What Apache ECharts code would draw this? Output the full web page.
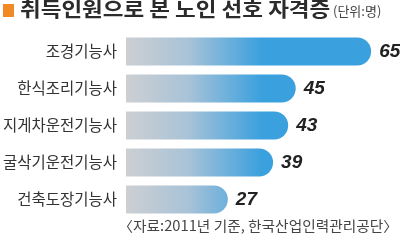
<!DOCTYPE html>
<html><head><meta charset="utf-8">
<script src="https://cdn.jsdelivr.net/npm/echarts@6/dist/echarts.min.js"></script>
<style>html,body{margin:0;padding:0;background:#fff}#c{width:400px;height:241px}</style>
</head><body><div id="c"></div>
<script>
const categories = ['조경기능사','한식조리기능사','지게차운전기능사','굴삭기운전기능사','건축도장기능사'];
const values = [65,45,43,39,27];
const titleText = '취득인원으로 본 노인 선호 자격증';
const unitText = '(단위:명)';
const sourceText = '〈자료:2011년 기준, 한국산업인력관리공단〉';

const chart = echarts.init(document.getElementById('c'), null, {renderer:'canvas'});
const kr = '"Noto Sans CJK KR", "Noto Sans", sans-serif';
chart.setOption({
  animation:false,
  backgroundColor:'#fff',
  grid:{left:126, top:33, width:264, height:185, containLabel:false, outerBoundsMode:'none'},
  xAxis:{type:'value', min:0, max:70, show:false},
  yAxis:{type:'category', data:categories, inverse:true,
    axisLine:{show:false}, axisTick:{show:false}, splitLine:{show:false},
    axisLabel:{fontFamily:kr, fontSize:15.5, color:'#333', margin:9}},
  series:[{type:'bar', data:values, barWidth:28,
    itemStyle:{borderRadius:[0,14,14,0],
      color:new echarts.graphic.LinearGradient(126,0,262,0,[
        {offset:0,color:'#cdcfd2'},{offset:0.45,color:'#a9c3d8'},{offset:1,color:'#3aa0de'}],true)},
    label:{show:true, position:'right', distance:8, fontFamily:'"Liberation Sans", Arial, sans-serif',
      fontSize:19, fontWeight:'bold', fontStyle:'italic', color:'#222'}
  }],
  graphic:[
    {type:'rect', shape:{x:3,y:4,width:11,height:13}, style:{fill:'#f18a25'}},
    {type:'text', x:20, y:-1, scaleX:1.125, style:{text:titleText, font:'bold 20px '+kr, fill:'#2b2b2b'}},
    {type:'text', x:333, y:5, style:{text:unitText, font:'13px '+kr, fill:'#444'}},
    {type:'text', x:398, y:219, scaleX:1.05, style:{text:sourceText, font:'14px '+kr, fill:'#444', align:'right'}}
  ]
});
</script></body></html>
